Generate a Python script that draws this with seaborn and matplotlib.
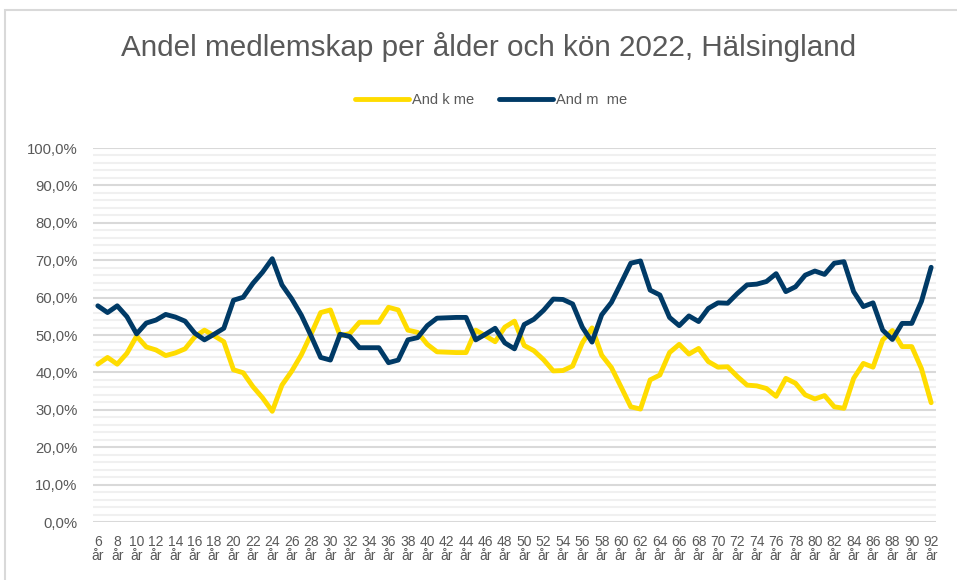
import matplotlib.pyplot as plt
import matplotlib.patches as mpatches
from matplotlib.ticker import MultipleLocator, FuncFormatter
import pandas as pd
import seaborn as sns

# %% Data

AGES = list(range(6, 93))

# Andel män per ålder (%)
MEN = [
    57.8, 56.0, 57.8, 54.9, 50.3, 53.2, 54.0, 55.5, 54.8, 53.7,
    50.5, 48.7, 50.2, 51.8, 59.3, 60.1, 63.8, 66.8, 70.4, 63.4,
    59.7, 55.3, 49.8, 44.0, 43.3, 50.2, 49.6, 46.6, 46.6, 46.6,
    42.6, 43.3, 48.7, 49.3, 52.5, 54.5, 54.6, 54.7, 54.7, 48.7,
    50.2, 51.8, 47.9, 46.3, 52.8, 54.2, 56.6, 59.6, 59.5, 58.3,
    52.1, 48.1, 55.4, 58.7, 63.9, 69.2, 69.8, 62.0, 60.7, 54.7,
    52.5, 55.1, 53.6, 57.1, 58.6, 58.5, 61.1, 63.4, 63.6, 64.3,
    66.4, 61.6, 62.9, 66.0, 67.1, 66.2, 69.2, 69.6, 61.6, 57.6,
    58.6, 51.3, 48.8, 53.1, 53.1, 59.0, 68.1,
]

# Andel kvinnor per ålder (%)
WOMEN = [
    42.2, 44.0, 42.2, 45.1, 49.7, 46.8, 46.0, 44.5, 45.2, 46.3,
    49.5, 51.3, 49.8, 48.2, 40.7, 39.9, 36.2, 33.2, 29.6, 36.6,
    40.3, 44.7, 50.2, 56.0, 56.7, 49.8, 50.4, 53.4, 53.4, 53.4,
    57.4, 56.7, 51.3, 50.7, 47.5, 45.5, 45.4, 45.3, 45.3, 51.3,
    49.8, 48.2, 52.1, 53.7, 47.2, 45.8, 43.4, 40.4, 40.5, 41.7,
    47.9, 51.9, 44.6, 41.3, 36.1, 30.8, 30.2, 38.0, 39.3, 45.3,
    47.5, 44.9, 46.4, 42.9, 41.4, 41.5, 38.9, 36.6, 36.4, 35.7,
    33.6, 38.4, 37.1, 34.0, 32.9, 33.8, 30.8, 30.4, 38.4, 42.4,
    41.4, 48.7, 51.2, 46.9, 46.9, 41.0, 31.9,
]

SERIES = ["And k me", "And m  me"]
COLORS = ["#FFDC00", "#003A66"]

df = pd.concat(
    [
        pd.DataFrame({"age": AGES, "share": WOMEN, "series": SERIES[0]}),
        pd.DataFrame({"age": AGES, "share": MEN, "series": SERIES[1]}),
    ]
)

# %% Plot

sns.set_style("white")
plt.rcParams["font.family"] = ["Liberation Sans", "DejaVu Sans"]

fig = plt.figure(figsize=(9.57, 5.8), dpi=100)
ax = fig.add_axes([93 / 957, 1 - 522 / 580, (936 - 93) / 957, (522 - 148) / 580])

sns.lineplot(
    data=df, x="age", y="share", hue="series", palette=COLORS,
    linewidth=3.5, ax=ax, legend=False,
)

text_color = "#595959"

ax.set_xlim(5.5, 92.5)
ax.set_ylim(0, 100)
ax.yaxis.set_major_locator(MultipleLocator(10))
ax.yaxis.set_minor_locator(MultipleLocator(2))
ax.yaxis.set_major_formatter(
    FuncFormatter(lambda v, _: f"{v:.1f}%".replace(".", ","))
)
ax.grid(axis="y", which="major", color="#d9d9d9", linewidth=1.5)
ax.grid(axis="y", which="minor", color="#f0f0f0", linewidth=1.5)
ax.grid(axis="x", visible=False)
ax.set_axisbelow(True)

even_ages = [a for a in AGES if a % 2 == 0]
ax.set_xticks(even_ages)
ax.set_xticklabels([f"{a}\når" for a in even_ages], linespacing=1.05)
ax.tick_params(axis="x", length=0, labelsize=10, colors=text_color, pad=9)
ax.tick_params(axis="y", length=0, labelsize=10.7, colors=text_color, pad=11)
ax.set_xlabel("")
ax.set_ylabel("")
sns.despine(ax=ax, left=True, bottom=True)

fig.text(0.51, 1 - 47 / 580, "Andel medlemskap per ålder och kön 2022, Hälsingland",
         ha="center", va="center", fontsize=21.3, color=text_color)

handles = [plt.Line2D([], [], color=c, linewidth=3.5) for c in COLORS]
fig.legend(
    handles, SERIES, loc="center", bbox_to_anchor=(0.513, 1 - 100 / 580),
    ncol=2, frameon=False, fontsize=10.5, labelcolor=text_color,
    handlelength=3.7, handletextpad=0.2, columnspacing=1.7,
)

# outer chart border
fig.patches.append(
    mpatches.Rectangle(
        (5 / 957, -0.05), 1.2, 1 - 10 / 580 + 0.05,
        transform=fig.transFigure, fill=False, edgecolor="#d9d9d9", linewidth=1.5,
    )
)

fig.savefig("out.png", dpi=100)
